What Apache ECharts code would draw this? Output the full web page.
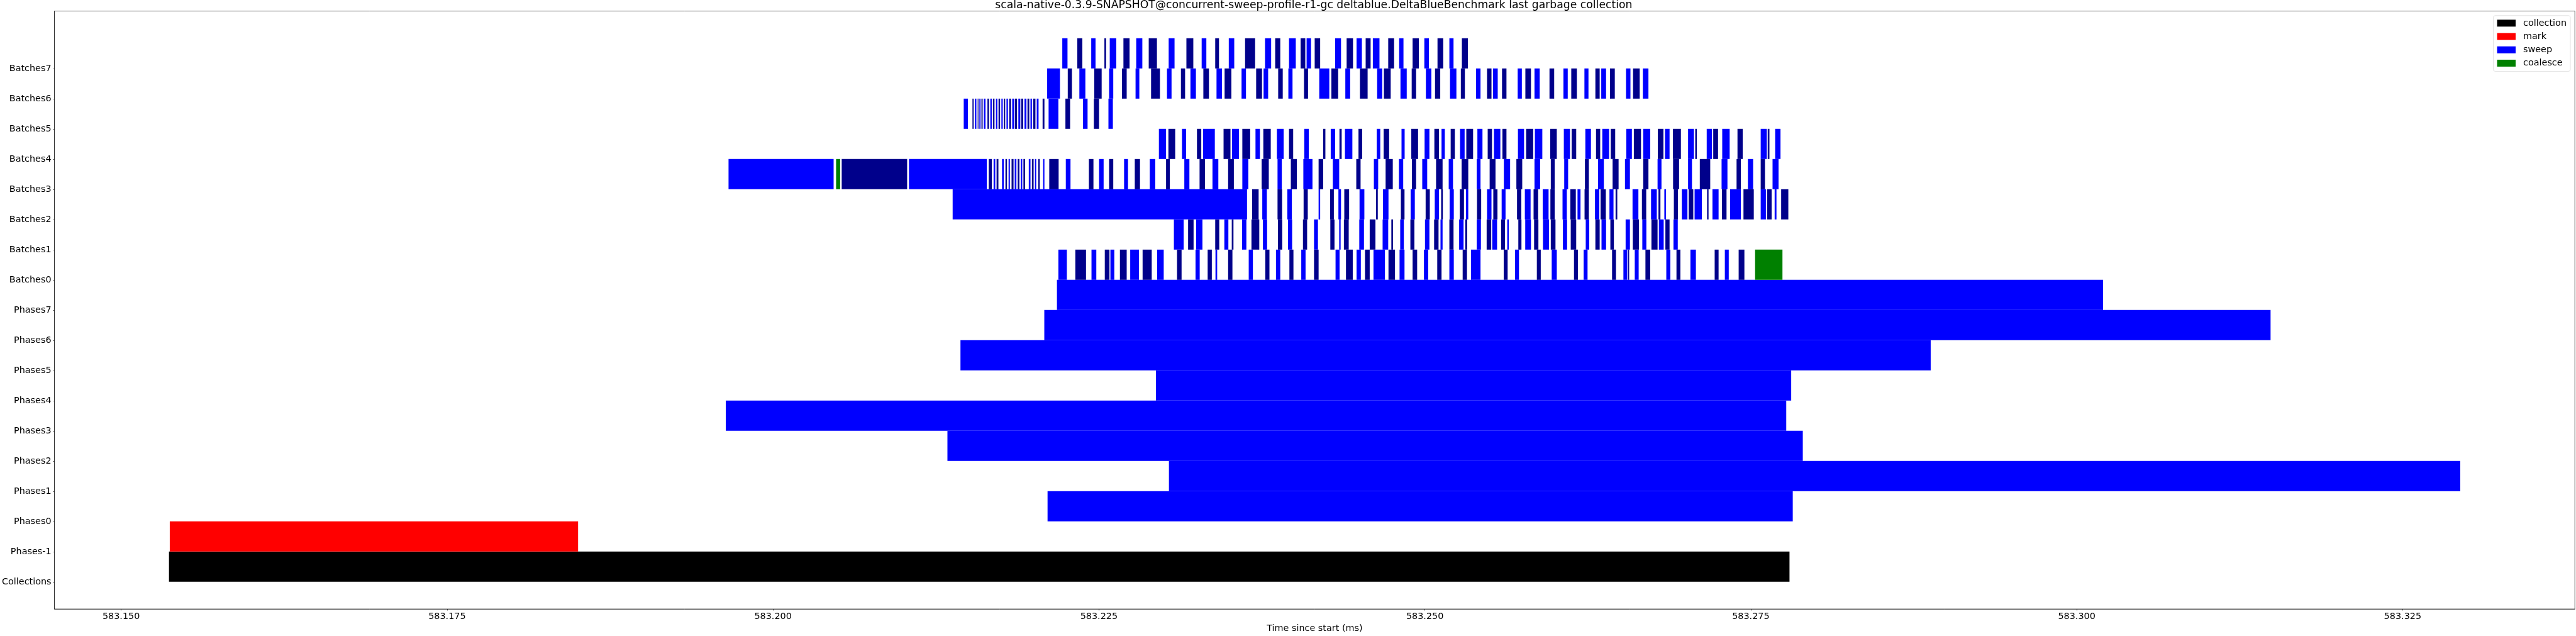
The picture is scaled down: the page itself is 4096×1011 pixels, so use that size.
<!DOCTYPE html>
<html><head><meta charset="utf-8">
<script src="https://cdn.jsdelivr.net/npm/echarts@6/dist/echarts.min.js"></script>
<style>html,body{margin:0;padding:0;background:#fff}#chart{width:4096px;height:1011px}</style>
</head><body><div id="chart"></div>
<script>
const TITLE = "scala-native-0.3.9-SNAPSHOT@concurrent-sweep-profile-r1-gc deltablue.DeltaBlueBenchmark last garbage collection";
const X_LABEL = "Time since start (ms)";
const categories = ["Collections","Phases-1","Phases0","Phases1","Phases2","Phases3","Phases4","Phases5","Phases6","Phases7",
  "Batches0","Batches1","Batches2","Batches3","Batches4","Batches5","Batches6","Batches7"];
const xTicks = [583.150, 583.175, 583.200, 583.225, 583.250, 583.275, 583.300, 583.325];
const legendNames = ["collection", "mark", "sweep", "coalesce"];

// [start, end] in ms
const collectionSpan = [583.15367, 583.27797];           // row Collections
const markSpan = [583.15373, 583.18505];                 // row Phases-1
const phaseStarts = [583.22106, 583.23037, 583.21338, 583.19638, 583.22937, 583.21438, 583.22081, 583.22178]; // Phases0..7
const phaseEnds   = [583.27822, 583.32942, 583.27899, 583.27772, 583.27810, 583.28880, 583.31487, 583.30202];

// sweep batches, flat [start, end, start, end, ...]
const batches7 = [583.22219,583.22259, 583.22334,583.22373, 583.22441,583.22474, 583.22542,583.22555, 583.22583,583.22633, 583.22688,583.22735, 583.22786,583.22833, 583.22882,583.22945, 583.23035,583.23080, 583.23171,583.23224, 583.23288,583.23324, 583.23392,583.23421, 583.23496,583.23538, 583.23621,583.23698, 583.23774,583.23821, 583.23852,583.23891, 583.23958,583.24010, 583.24047,583.24083, 583.24093,583.24127, 583.24155,583.24197, 583.24312,583.24357, 583.24400,583.24449, 583.24476,583.24517, 583.24546,583.24584, 583.24601,583.24652, 583.24719,583.24764, 583.24803,583.24836, 583.24906,583.24954, 583.24996,583.25031, 583.25097,583.25141, 583.25188,583.25220, 583.25284,583.25330];
const batches6 = [583.22103,583.22201, 583.22261,583.22293, 583.22350,583.22396, 583.22464,583.22521, 583.22578,583.22610, 583.22677,583.22713, 583.22781,583.22810, 583.22900,583.22968, 583.23022,583.23057, 583.23129,583.23161, 583.23202,583.23244, 583.23301,583.23344, 583.23402,583.23444, 583.23464,583.23516, 583.23594,583.23628, 583.23706,583.23751, 583.23763,583.23798, 583.23875,583.23910, 583.23953,583.23985, 583.24073,583.24104, 583.24190,583.24267, 583.24283,583.24335, 583.24390,583.24427, 583.24502,583.24561, 583.24634,583.24673, 583.24686,583.24738, 583.24813,583.24861, 583.24899,583.24933, 583.25008,583.25050, 583.25078,583.25118, 583.25193,583.25242, 583.25276,583.25307, 583.25393,583.25427, 583.25477,583.25511, 583.25523,583.25559, 583.25592,583.25626, 583.25712,583.25744, 583.25771,583.25814, 583.25841,583.25881, 583.25956,583.25992, 583.26063,583.26096, 583.26123,583.26166, 583.26224,583.26255, 583.26308,583.26341, 583.26353,583.26390, 583.26420,583.26457, 583.26543,583.26577, 583.26597,583.26648, 583.26672,583.26715];
const batches5 = [583.21463,583.21495, 583.21530,583.21539, 583.21549,583.21560, 583.21570,583.21576, 583.21583,583.21592, 583.21599,583.21608, 583.21617,583.21630, 583.21645,583.21657, 583.21667,583.21678, 583.21687,583.21699, 583.21710,583.21721, 583.21730,583.21742, 583.21752,583.21762, 583.21770,583.21781, 583.21791,583.21802, 583.21812,583.21826, 583.21835,583.21850, 583.21856,583.21872, 583.21882,583.21897, 583.21904,583.21919, 583.21929,583.21944, 583.21952,583.21966, 583.21975,583.21986, 583.21996,583.22013, 583.22023,583.22037, 583.22068,583.22082, 583.22114,583.22189, 583.22243,583.22279, 583.22378,583.22413, 583.22461,583.22501, 583.22573,583.22607];
const batches4 = [583.22960,583.23015, 583.23033,583.23085, 583.23137,583.23169, 583.23252,583.23285, 583.23299,583.23389, 583.23456,583.23509, 583.23521,583.23574, 583.23600,583.23660, 583.23701,583.23735, 583.23761,583.23818, 583.23865,583.23917, 583.23958,583.23990, 583.24075,583.24110, 583.24220,583.24237, 583.24278,583.24312, 583.24345,583.24362, 583.24387,583.24444, 583.24491,583.24519, 583.24631,583.24658, 583.24684,583.24726, 583.24821,583.24845, 583.24896,583.24948, 583.24998,583.25035, 583.25073,583.25108, 583.25128,583.25153, 583.25198,583.25230, 583.25270,583.25305, 583.25318,583.25370, 583.25403,583.25442, 583.25482,583.25515, 583.25530,583.25579, 583.25595,583.25626, 583.25714,583.25761, 583.25777,583.25831, 583.25844,583.25901, 583.25962,583.26012, 583.26066,583.26113, 583.26126,583.26161, 583.26231,583.26274, 583.26313,583.26345, 583.26361,583.26413, 583.26426,583.26460, 583.26545,583.26588, 583.26603,583.26658, 583.26675,583.26729, 583.26787,583.26830, 583.26842,583.26877, 583.26903,583.26964, 583.27019,583.27064, 583.27074,583.27086, 583.27162,583.27202, 583.27212,583.27249, 583.27281,583.27338, 583.27398,583.27438, 583.27576,583.27623, 583.27630,583.27643, 583.27687,583.27728];
const batches3 = [583.19659,583.20465, 583.20527,583.21029, 583.21043,583.21640, 583.21655,583.21679, 583.21692,583.21705, 583.21715,583.21729, 583.21757,583.21770, 583.21783,583.21795, 583.21807,583.21817, 583.21830,583.21845, 583.21854,583.21867, 583.21877,583.21890, 583.21900,583.21912, 583.21921,583.21934, 583.21962,583.21975, 583.21986,583.21999, 583.22009,583.22019, 583.22035,583.22046, 583.22072,583.22082, 583.22119,583.22191, 583.22246,583.22282, 583.22423,583.22458, 583.22501,583.22536, 583.22578,583.22610, 583.22693,583.22723, 583.22775,583.22815, 583.22890,583.22932, 583.23015,583.23044, 583.23155,583.23194, 583.23272,583.23314, 583.23371,583.23416, 583.23491,583.23535, 583.23600,583.23646, 583.23748,583.23803, 583.23870,583.23903, 583.23972,583.24018, 583.24068,583.24138, 583.24185,583.24220, 583.24294,583.24343, 583.24474,583.24507, 583.24609,583.24642, 583.24699,583.24754, 583.24801,583.24834, 583.24901,583.24933, 583.24980,583.25018, 583.25086,583.25136, 583.25183,583.25216, 583.25282,583.25333, 583.25398,583.25427, 583.25497,583.25542, 583.25606,583.25654, 583.25702,583.25747, 583.25841,583.25884, 583.25966,583.25996, 583.26069,583.26099, 583.26228,583.26258, 583.26328,583.26373, 583.26440,583.26486, 583.26535,583.26573, 583.26675,583.26715, 583.26785,583.26815, 583.26904,583.26950, 583.27019,583.27049, 583.27109,583.27189, 583.27276,583.27321, 583.27391,583.27424, 583.27478,583.27518, 583.27576,583.27609, 583.27667,583.27713];
const batches2 = [583.21378,583.23636, 583.23675,583.23725, 583.23753,583.23788, 583.23870,583.23905, 583.23945,583.23980, 583.24070,583.24102, 583.24185,583.24197, 583.24273,583.24302, 583.24337,583.24357, 583.24382,583.24419, 583.24499,583.24536, 583.24626,583.24639, 583.24679,583.24721, 583.24816,583.24844, 583.24891,583.24923, 583.25006,583.25038, 583.25076,583.25108, 583.25125,583.25138, 583.25190,583.25222, 583.25268,583.25300, 583.25315,583.25333, 583.25400,583.25432, 583.25477,583.25511, 583.25525,583.25557, 583.25589,583.25619, 583.25707,583.25740, 583.25767,583.25811, 583.25834,583.25869, 583.25904,583.25949, 583.25963,583.25996, 583.26056,583.26089, 583.26116,583.26158, 583.26171,583.26194, 583.26225,583.26258, 583.26305,583.26338, 583.26348,583.26388, 583.26416,583.26447, 583.26463,583.26476, 583.26593,583.26638, 583.26665,583.26698, 583.26735,583.26779, 583.26792,583.26807, 583.26837,583.26850, 583.26910,583.26941, 583.26971,583.27014, 583.27024,583.27059, 583.27069,583.27125, 583.27165,583.27176, 583.27206,583.27253, 583.27279,583.27314, 583.27341,583.27424, 583.27444,583.27523, 583.27576,583.27616, 583.27626,583.27660, 583.27683,583.27697, 583.27733,583.27788];
const batches1 = [583.23075,583.23150, 583.23184,583.23226, 583.23246,583.23294, 583.23392,583.23423, 583.23462,583.23493, 583.23519,583.23532, 583.23598,583.23631, 583.23670,583.23730, 583.23758,583.23790, 583.23873,583.23906, 583.23950,583.23982, 583.24065,583.24097, 583.24150,583.24180, 583.24275,583.24307, 583.24343,583.24354, 583.24379,583.24416, 583.24497,583.24533, 583.24577,583.24621, 583.24676,583.24719, 583.24743,583.24756, 583.24811,583.24839, 583.24889,583.24920, 583.25001,583.25035, 583.25071,583.25105, 583.25120,583.25136, 583.25188,583.25220, 583.25263,583.25297, 583.25310,583.25325, 583.25398,583.25430, 583.25474,583.25509, 583.25517,583.25554, 583.25585,583.25615, 583.25632,583.25644, 583.25717,583.25741, 583.25770,583.25814, 583.25838,583.25871, 583.25906,583.25952, 583.25966,583.26002, 583.26059,583.26091, 583.26119,583.26161, 583.26234,583.26261, 583.26308,583.26341, 583.26355,583.26390, 583.26423,583.26450, 583.26540,583.26573, 583.26595,583.26642, 583.26668,583.26699, 583.26738,583.26785, 583.26795,583.26832, 583.26845,583.26877, 583.26907,583.26940];
const batches0 = [583.22189,583.22254, 583.22319,583.22401, 583.22443,583.22480, 583.22545,583.22581, 583.22588,583.22618, 583.22661,583.22713, 583.22740,583.22807, 583.22835,583.22905, 583.22947,583.22997, 583.23099,583.23134, 583.23241,583.23273, 583.23334,583.23366, 583.23394,583.23407, 583.23491,583.23524, 583.23649,583.23681, 583.23776,583.23808, 583.23858,583.23891, 583.23961,583.23992, 583.24052,583.24085, 583.24150,583.24185, 583.24315,583.24346, 583.24395,583.24447, 583.24476,583.24509, 583.24541,583.24577, 583.24606,583.24694, 583.24721,583.24771, 583.24806,583.24844, 583.24906,583.24941, 583.24993,583.25026, 583.25095,583.25128, 583.25188,583.25222, 583.25290,583.25323, 583.25354,583.25427, 583.25605,583.25635, 583.25692,583.25722, 583.25859,583.25889, 583.25973,583.26012, 583.26144,583.26174, 583.26218,583.26248, 583.26436,583.26466, 583.26523,583.26553, 583.26560,583.26567, 583.26610,583.26640, 583.26692,583.26729, 583.26852,583.26883, 583.26930,583.26960, 583.27037,583.27079, 583.27223,583.27253, 583.27301,583.27331, 583.27407,583.27451];
// coalesce: [row name, start, end]
const coalesceSpans = [["Batches3", 583.20484, 583.20515], ["Batches0", 583.27533, 583.27743]];

// ---------- layout (window px; reference scaled by 4096/7914) ----------
const S = 4096 / 7914;
const FS = 27.8 * S;          // tick / legend / label font
const TFS = 33.3 * S;         // title font
const FONT = "DejaVu Sans";
const GRID = { left: 161.5 * S, right: 3.5 * S, top: 34 * S, bottom: 71 * S };
const X_MIN = 583.1448856, X_MAX = 583.3382101, Y_MIN = -0.9, Y_MAX = 18.9;
const COLORS = { collection: "#000000", mark: "#ff0000", sweep: "#0000ff", sweepAlt: "#00008b", coalesce: "#008000" };

const rowOf = name => categories.indexOf(name);
const collectionData = [[rowOf("Collections"), collectionSpan[0], collectionSpan[1], 0]];
const markData = [[rowOf("Phases-1"), markSpan[0], markSpan[1], 0]];
const sweepData = [];
phaseStarts.forEach((s, i) => sweepData.push([rowOf("Phases" + i), s, phaseEnds[i], 0]));
const batchRows = [batches0, batches1, batches2, batches3, batches4, batches5, batches6, batches7];
batchRows.forEach((arr, b) => {
  const row = rowOf("Batches" + b);
  for (let j = 0; j < arr.length; j += 2) sweepData.push([row, arr[j], arr[j + 1], (j / 2) % 2]);
});
const coalesceData = coalesceSpans.map(c => [rowOf(c[0]), c[1], c[2], 0]);

function rectRenderer(baseColor, altColor) {
  return function (params, api) {
    const row = api.value(0);
    const p0 = api.coord([api.value(1), row + 1]);
    const p1 = api.coord([api.value(2), row]);
    return {
      type: "rect",
      shape: { x: p0[0], y: p0[1], width: Math.max(p1[0] - p0[0], 0.5), height: p1[1] - p0[1] },
      style: { fill: api.value(3) === 1 ? altColor : baseColor }
    };
  };
}

const ctx = document.createElement("canvas").getContext("2d");
ctx.font = TFS + "px \"" + FONT + "\"";
const titleW = ctx.measureText(TITLE).width;
const axesCenter = GRID.left + (4096 - GRID.left - GRID.right) / 2;

const chart = echarts.init(document.getElementById("chart"), null, { renderer: "canvas" });
const axisLineStyle = { color: "#000", width: 0.6 };
chart.setOption({
  animation: false,
  backgroundColor: "#ffffff",
  title: {
    text: TITLE, left: axesCenter - titleW / 2, top: 0, padding: 0,
    textStyle: { fontFamily: FONT, fontSize: TFS, fontWeight: "normal", color: "#000" }
  },
  legend: {
    data: legendNames, orient: "vertical", right: 9, top: 24.8,
    icon: "rect", itemWidth: 29.5, itemHeight: 11, itemGap: 7.2,
    padding: [5, 6, 6, 6], borderColor: "#cccccc", borderWidth: 0.6, borderRadius: 3,
    backgroundColor: "rgba(255,255,255,0.8)",
    textStyle: { fontFamily: FONT, fontSize: FS, color: "#000", padding: [0, 0, 0, 7] }
  },
  grid: { left: GRID.left, right: GRID.right, top: GRID.top, bottom: GRID.bottom, show: true, borderColor: "#000", borderWidth: 0.6, containLabel: false },
  xAxis: {
    type: "value", min: X_MIN, max: X_MAX,
    name: X_LABEL, nameLocation: "middle", nameGap: 24,
    nameTextStyle: { fontFamily: FONT, fontSize: FS, color: "#000" },
    axisLine: { show: true, onZero: false, lineStyle: axisLineStyle },
    axisTick: { show: true, length: 2.5, lineStyle: axisLineStyle, customValues: xTicks },
    axisLabel: { customValues: xTicks, margin: 5, fontFamily: FONT, fontSize: FS, color: "#000", formatter: v => v.toFixed(3) },
    splitLine: { show: false }
  },
  yAxis: {
    type: "value", min: Y_MIN, max: Y_MAX,
    axisLine: { show: true, onZero: false, lineStyle: axisLineStyle },
    axisTick: { show: true, length: 2.5, lineStyle: axisLineStyle, customValues: categories.map((c, i) => i) },
    axisLabel: { customValues: categories.map((c, i) => i), margin: 5, fontFamily: FONT, fontSize: FS, color: "#000", formatter: v => categories[Math.round(v)] },
    splitLine: { show: false }
  },
  series: [
    { name: "collection", type: "custom", renderItem: rectRenderer(COLORS.collection), encode: { x: [1, 2], y: 0 }, itemStyle: { color: COLORS.collection }, data: collectionData },
    { name: "mark", type: "custom", renderItem: rectRenderer(COLORS.mark), encode: { x: [1, 2], y: 0 }, itemStyle: { color: COLORS.mark }, data: markData },
    { name: "sweep", type: "custom", renderItem: rectRenderer(COLORS.sweep, COLORS.sweepAlt), encode: { x: [1, 2], y: 0 }, itemStyle: { color: COLORS.sweep }, data: sweepData },
    { name: "coalesce", type: "custom", renderItem: rectRenderer(COLORS.coalesce), encode: { x: [1, 2], y: 0 }, itemStyle: { color: COLORS.coalesce }, data: coalesceData }
  ]
});
</script></body></html>
